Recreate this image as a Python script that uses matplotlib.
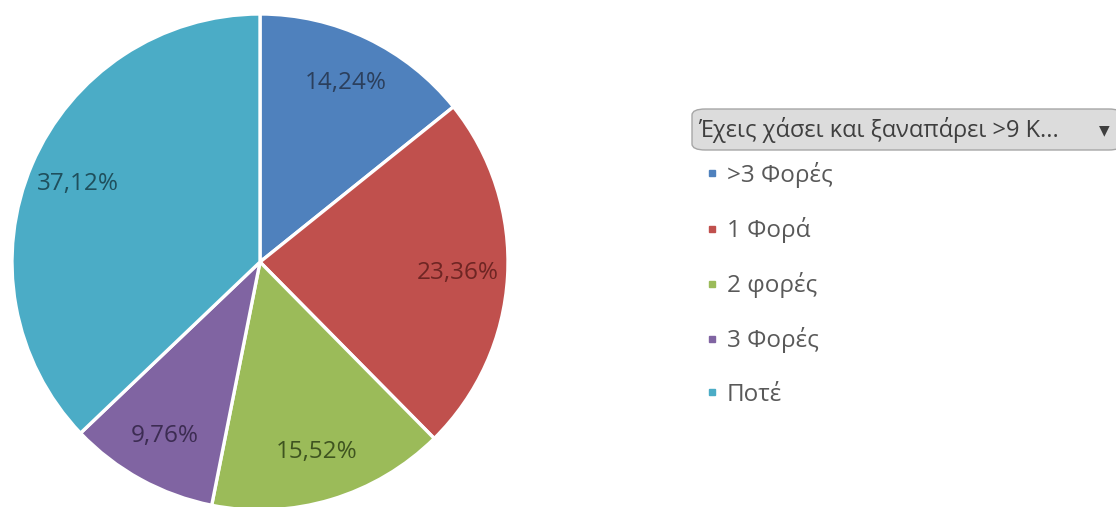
import matplotlib
matplotlib.use("Agg")
import matplotlib.pyplot as plt
from matplotlib.patches import FancyBboxPatch
from matplotlib.lines import Line2D
import numpy as np

plt.rcParams['font.family'] = ['Open Sans', 'DejaVu Sans']

labels = ['>3 Φορές', '1 Φορά', '2 φορές', '3 Φορές', 'Ποτέ']
values = [14.24, 23.36, 15.52, 9.76, 37.12]
colors = ['#4F81BD', '#C0504D', '#9BBB59', '#8064A2', '#4BACC6']
text_colors = ['#2b3f5c', '#6e2523', '#3f5420', '#3c2c52', '#1f4f5c']
header = 'Έχεις χάσει και ξαναπάρει >9 Κ...'

fig = plt.figure(figsize=(11.16, 5.07), dpi=100)
W, H = 1116, 507

# pie centred at (260, 262) px, radius ~248 px
cx, cy, r = 260, 262, 248
ax = fig.add_axes([(cx - r) / W, (H - cy - r) / H, 2 * r / W, 2 * r / H])
wedges, texts, autotexts = ax.pie(
    values, colors=colors, startangle=90, counterclock=False,
    autopct=lambda p: f'{p:.2f}%'.replace('.', ','), pctdistance=0.8,
    wedgeprops=dict(edgecolor='white', linewidth=2.4), radius=1.0,
    textprops=dict(fontsize=17.5))
for t, c in zip(autotexts, text_colors):
    t.set_color(c)
ax.set_xlim(-1, 1)
ax.set_ylim(-1, 1)
ax.set_aspect('equal')
ax.axis('off')

# filter button above the legend
btn = FancyBboxPatch((692 / W, (H - 150) / H), 430 / W, 41 / H,
                     boxstyle='round,pad=0,rounding_size=0.012',
                     transform=fig.transFigure, facecolor='#dcdcdc',
                     edgecolor='#a6a6a6', linewidth=1.0, zorder=1)
fig.patches.append(btn)
fig.text(698 / W, (H - 130) / H, header, fontsize=17, color='#3f3f3f',
         va='center', ha='left', zorder=2)
fig.text(1104 / W, (H - 130) / H, '▼', fontsize=10, color='#3f3f3f',
         va='center', ha='center', family='DejaVu Sans', zorder=2)

# legend entries
handles = [Line2D([], [], marker='s', linestyle='none', markersize=5,
                  markerfacecolor=c, markeredgecolor=c) for c in colors]
leg = fig.legend(handles, labels, loc='upper left',
                 bbox_to_anchor=(683 / W, (H - 140) / H),
                 frameon=False, fontsize=17.5, labelcolor='#595959',
                 handlelength=0.55, handletextpad=0.35, labelspacing=1.2)

fig.savefig('out.png', dpi=100, facecolor='white')
